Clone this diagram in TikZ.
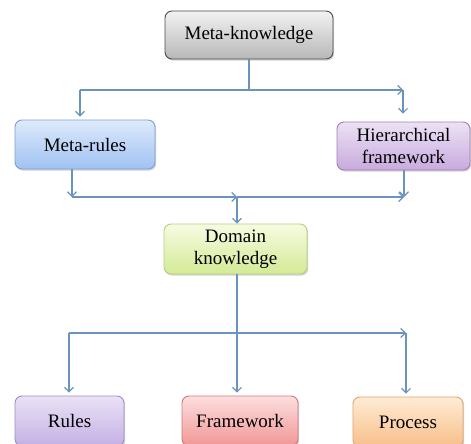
\documentclass[tikz,border=0pt]{standalone}
\usepackage{fontspec}
\setmainfont{Liberation Serif}
\usetikzlibrary{arrows.meta,shadows,positioning}
\definecolor{lnc}{HTML}{6A93BD}
\tikzset{
  boxstyle/.style={draw, rounded corners=7pt, line width=0.9pt, align=center,
    font=\fontsize{19}{22}\selectfont, inner sep=0pt,
    drop shadow={opacity=0.35, shadow xshift=1.2pt, shadow yshift=-1.6pt}},
  conn/.style={draw=lnc, line width=1.1pt},
  arr/.style={conn, -{Straight Barb[length=4.5pt,width=9pt,line width=1.1pt]}},
}
\begin{document}
\begin{tikzpicture}[x=1pt,y=-1pt]
\useasboundingbox (0,0) rectangle (471,444);
\fill[white] (0,0) rectangle (471,444);
% nodes
\node[boxstyle, draw=black!70, top color=white!95!black, bottom color=black!28,
  minimum width=168pt, minimum height=48pt] (mk) at (249,35) {Meta-knowledge};
\node[boxstyle, draw={rgb,255:red,127;green,159;blue,208}, top color={rgb,255:red,222;green,234;blue,252}, bottom color={rgb,255:red,160;green,194;blue,242},
  minimum width=140pt, minimum height=49pt] (mr) at (85,144.5) {Meta-rules};
\node[boxstyle, draw={rgb,255:red,160;green,128;blue,185}, top color={rgb,255:red,236;green,226;blue,244}, bottom color={rgb,255:red,200;green,170;blue,222},
  minimum width=133pt, minimum height=48pt] (hf) at (403.5,146) {Hierarchical\\framework};
\node[boxstyle, draw={rgb,255:red,184;green,206;blue,128}, top color={rgb,255:red,246;green,251;blue,226}, bottom color={rgb,255:red,212;green,234;blue,150},
  minimum width=143pt, minimum height=50pt] (dk) at (235.5,249) {Domain\\knowledge};
\node[boxstyle, draw={rgb,255:red,160;green,140;blue,200}, top color={rgb,255:red,234;green,226;blue,246}, bottom color={rgb,255:red,196;green,176;blue,228},
  minimum width=109pt, minimum height=50pt] (ru) at (69.5,421) {Rules};
\node[boxstyle, draw={rgb,255:red,214;green,120;blue,120}, top color={rgb,255:red,252;green,222;blue,222}, bottom color={rgb,255:red,242;green,150;blue,150},
  minimum width=116pt, minimum height=50pt] (fw) at (240,421) {Framework};
\node[boxstyle, draw={rgb,255:red,226;green,164;blue,110}, top color={rgb,255:red,254;green,236;blue,214}, bottom color={rgb,255:red,248;green,190;blue,136},
  minimum width=110pt, minimum height=50pt] (pr) at (408,422) {Process};
% junction coordinates
\coordinate (a0) at (249,90);
\coordinate (a1) at (80,90);
\coordinate (a2) at (403,90);
\coordinate (b1) at (72,197);
\coordinate (bm) at (237,197);
\coordinate (b2) at (404,197);
\coordinate (c0) at (237,333);
\coordinate (c1) at (69,333);
\coordinate (c2) at (406,333);
% level 1
\draw[conn] (mk.south -| a0) -- (a0);
\draw[arr] (a1) -- (a2);
\draw[arr, shorten >=3pt] (a1) -- (a1 |- mr.north);
\draw[arr, shorten >=8pt] (a2) -- (a2 |- hf.north);
% level 2
\draw[arr] (b1 |- mr.south) -- (b1);
\draw[arr] (b1) -- (bm);
\draw[arr] (bm) -- (b2);
\draw[arr] (b2 |- hf.south) -- (b2);
\draw[arr] (bm) -- (bm |- dk.north);
% level 3
\draw[conn] (dk.south -| c0) -- (c0);
\draw[arr] (c1) -- (c2);
\draw[arr, shorten >=3pt] (c1) -- (c1 |- ru.north);
\draw[arr, shorten >=3pt] (c0) -- (c0 |- fw.north);
\draw[arr, shorten >=3pt] (c2) -- (c2 |- pr.north);
\end{tikzpicture}
\end{document}
